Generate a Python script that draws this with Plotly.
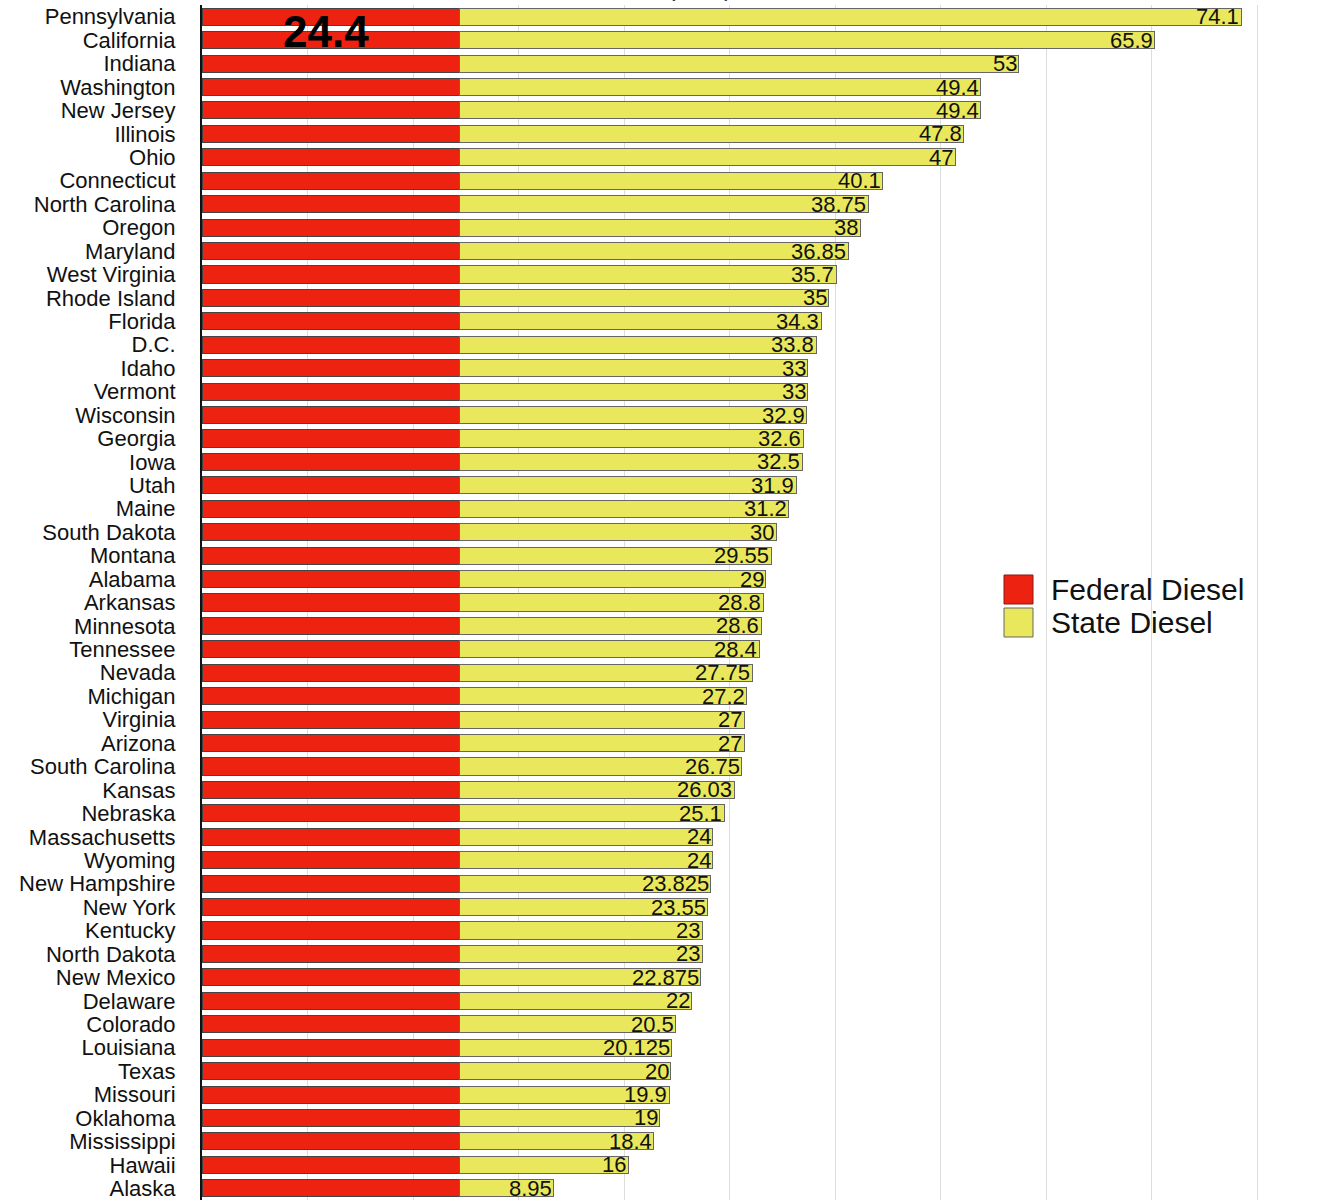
import plotly.graph_objects as go

states = ["Pennsylvania", "California", "Indiana", "Washington", "New Jersey", "Illinois", "Ohio",
          "Connecticut", "North Carolina", "Oregon", "Maryland", "West Virginia", "Rhode Island",
          "Florida", "D.C.", "Idaho", "Vermont", "Wisconsin", "Georgia", "Iowa", "Utah", "Maine",
          "South Dakota", "Montana", "Alabama", "Arkansas", "Minnesota", "Tennessee", "Nevada",
          "Michigan", "Virginia", "Arizona", "South Carolina", "Kansas", "Nebraska", "Massachusetts",
          "Wyoming", "New Hampshire", "New York", "Kentucky", "North Dakota", "New Mexico",
          "Delaware", "Colorado", "Louisiana", "Texas", "Missouri", "Oklahoma", "Mississippi",
          "Hawaii", "Alaska"]
state_diesel = [74.1, 65.9, 53, 49.4, 49.4, 47.8, 47, 40.1, 38.75, 38, 36.85, 35.7, 35, 34.3, 33.8,
                33, 33, 32.9, 32.6, 32.5, 31.9, 31.2, 30, 29.55, 29, 28.8, 28.6, 28.4, 27.75, 27.2,
                27, 27, 26.75, 26.03, 25.1, 24, 24, 23.825, 23.55, 23, 23, 22.875, 22, 20.5, 20.125,
                20, 19.9, 19, 18.4, 16, 8.95]
federal_value = 24.4
federal_diesel = [federal_value] * len(states)
totals = [f + s for f, s in zip(federal_diesel, state_diesel)]
labels = [f"{v:g}" for v in state_diesel]

RED = "#EE2211"
YELLOW = "#E9E85C"
FONT = "Liberation Sans, Arial, Helvetica, sans-serif"

fig = go.Figure()
fig.add_trace(go.Bar(y=states, x=federal_diesel, orientation="h", name="Federal Diesel",
                     marker=dict(color=RED, line=dict(color="#444444", width=1)),
                     hoverinfo="x+y", showlegend=False))
fig.add_trace(go.Bar(y=states, x=state_diesel, orientation="h", name="State Diesel",
                     marker=dict(color=YELLOW, line=dict(color="#666666", width=1)),
                     hoverinfo="x+y", showlegend=False))

# value labels at the end of each stacked bar
for st, tot, lab in zip(states, totals, labels):
    fig.add_annotation(x=tot, y=st, xref="x", yref="y", text=lab, showarrow=False,
                       xanchor="right", yanchor="middle", xshift=-1,
                       height=21, borderpad=0, valign="middle",
                       font=dict(family=FONT, size=22, color="#111111"))

fig.add_annotation(x=federal_value * 0.48, y=0.62, xref="x", yref="y", text="<b>24.4</b>",
                   showarrow=False, font=dict(family=FONT, size=44, color="#000000"))
fig.add_annotation(x=47.2, y=1.0135, xref="x", yref="paper", text="(2023)",
                   showarrow=False, yanchor="middle",
                   font=dict(family=FONT, size=22, color="#222222"))

# custom legend
PW = 1108
PH = 1195
legend_items = [("Federal Diesel", RED, "#8a1a10"), ("State Diesel", YELLOW, "#666666")]
for i, (name, col, lc) in enumerate(legend_items):
    y0 = 575 + i * 33
    fig.add_shape(type="rect", xref="paper", yref="paper",
                  x0=(1004 - 202) / PW, x1=(1033 - 202) / PW,
                  y0=1 - (y0 + 29 - 5) / PH, y1=1 - (y0 - 5) / PH,
                  fillcolor=col, line=dict(color=lc, width=1))
    fig.add_annotation(xref="paper", yref="paper", x=(1049 - 202) / PW,
                       y=1 - (y0 + 14.5 - 5) / PH, text=name, showarrow=False,
                       xanchor="left", yanchor="middle",
                       font=dict(family=FONT, size=30, color="#111111"))

fig.update_layout(
    barmode="stack",
    bargap=0.27,
    width=1319, height=1200,
    margin=dict(l=202, r=9, t=5, b=0),
    plot_bgcolor="white", paper_bgcolor="white",
    font=dict(family=FONT, size=22, color="#111111"),
    xaxis=dict(range=[0, 105], dtick=10, showgrid=True, gridcolor="#dddddd", gridwidth=1,
               showticklabels=False, zeroline=False, showline=False, fixedrange=True),
    yaxis=dict(range=[len(states) - 0.5, -0.5], tickmode="array", tickvals=states, ticktext=states,
               showline=True, linecolor="#111111", linewidth=2,
               ticks="", ticklabelstandoff=20, tickfont=dict(family=FONT, size=22, color="#111111"),
               showgrid=False),
)

fig.write_html("out.html", config={"displayModeBar": False},
               post_script="document.body.style.margin='0';document.body.style.padding='0';")
